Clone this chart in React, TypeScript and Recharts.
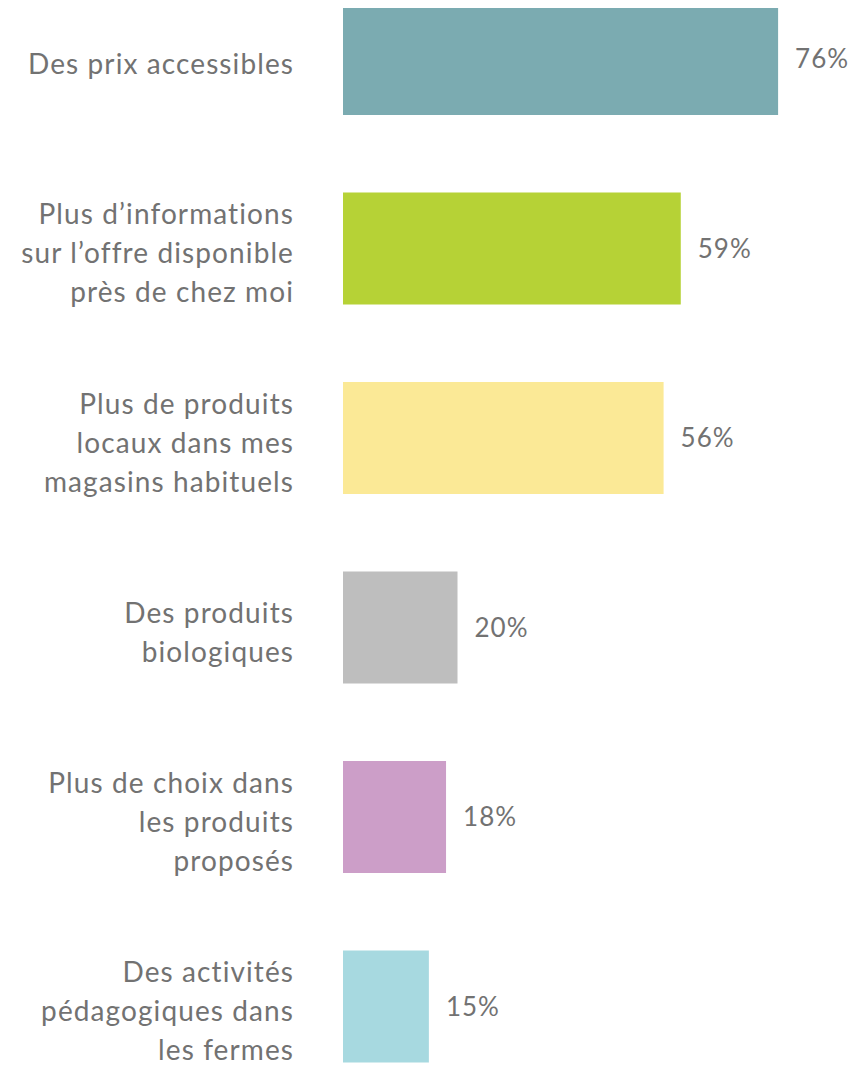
import React from "react";
import { BarChart, Bar, XAxis, YAxis, Cell, LabelList } from "recharts";

const categories = [
  "Des prix accessibles",
  "Plus d’informations|sur l’offre disponible|près de chez moi",
  "Plus de produits|locaux dans mes|magasins habituels",
  "Des produits|biologiques",
  "Plus de choix dans|les produits|proposés",
  "Des activités|pédagogiques dans|les fermes",
];
const values = [76, 59, 56, 20, 18, 15];
const colors = ["#7BABB1", "#B6D236", "#FBE996", "#BEBEBE", "#CC9EC8", "#A7D9E0"];

const data = categories.map((c, i) => ({ name: c, value: values[i] }));

const FONT = "Lato, 'Open Sans', sans-serif";
const TEXT = "#727272";

const Tick = (props: any) => {
  const { x, y, payload } = props;
  const lines = String(payload.value).split("|");
  const lh = 39;
  const start = y + 15 - ((lines.length - 1) * lh) / 2;
  return (
    <g>
      {lines.map((l: string, i: number) => (
        <text
          key={i}
          x={x}
          y={start + i * lh}
          textAnchor="end"
          fontFamily={FONT}
          fontSize={28}
          letterSpacing={1.1}
          fill={TEXT}
        >
          {l}
        </text>
      ))}
    </g>
  );
};

export default function App() {
  return (
    <div style={{ position: "relative", top: -44 }}>
      <BarChart
        width={855}
        height={1137}
        data={data}
        layout="vertical"
        margin={{ top: 0, right: 62, bottom: 0, left: 0 }}
      >
        <XAxis type="number" domain={[0, 80]} hide />
        <YAxis
          type="category"
          dataKey="name"
          width={335}
          axisLine={false}
          tickLine={false}
          tick={<Tick />}
          tickMargin={43}
        />
        <Bar dataKey="value" barSize={112} isAnimationActive={false}>
          {data.map((d, i) => (
            <Cell key={i} fill={colors[i]} />
          ))}
          <LabelList
            dataKey="value"
            position="right"
            offset={17}
            formatter={(v: any) => `${v}%`}
            style={{ fontFamily: FONT, fontSize: 26, fill: TEXT, letterSpacing: 1 }}
          />
        </Bar>
      </BarChart>
    </div>
  );
}
